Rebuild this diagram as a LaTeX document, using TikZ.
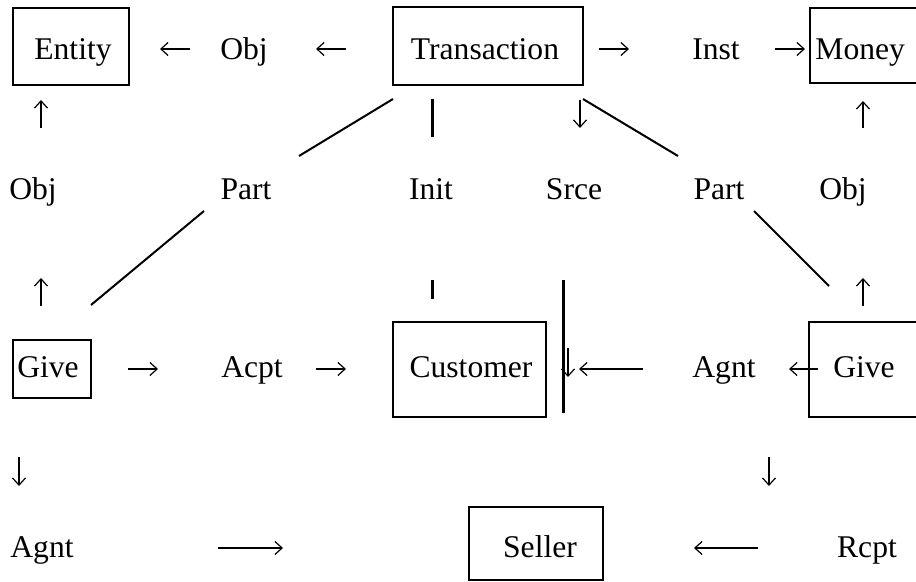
\documentclass[tikz,border=0pt]{standalone}
\usepackage{fontspec}
\setmainfont{Liberation Serif}
\usetikzlibrary{arrows.meta}
\begin{document}
\begin{tikzpicture}[x=0.5pt,y=-0.5pt,
  lbl/.style={anchor=base,inner sep=0pt,font=\fontsize{15.8}{18}\selectfont},
  boxline/.style={line width=1pt},
  rel/.style={line width=1pt},
  bar/.style={line width=1.5pt},
  arr/.style={line width=0.6pt,-{Straight Barb[length=3.6pt,width=6.5pt,line width=0.6pt]}}]
\useasboundingbox (0,0) rectangle (916,582);
\clip (0,0) rectangle (916,582);
% boxes
\draw[boxline] (13,8) rectangle (129,85);
\draw[boxline] (393,7) rectangle (583,85);
\draw[boxline] (810,8) rectangle (930,83);
\draw[boxline] (13,340) rectangle (91,398);
\draw[boxline] (393,322) rectangle (546,417);
\draw[boxline] (809,322) rectangle (930,417);
\draw[boxline] (469,507) rectangle (603,580);
% labels row 1
\node[lbl] (entity) at (73,60) {Entity};
\node[lbl] (obj1) at (244,60) {Obj};
\node[lbl] (trans) at (485,60) {Transaction};
\node[lbl] (inst) at (716,60) {Inst};
\node[lbl,anchor=base west] (money) at (815,60) {Money};
% row 3
\node[lbl] (obj2) at (33,200) {Obj};
\node[lbl] (part1) at (246,200) {Part};
\node[lbl] (init) at (431,200) {Init};
\node[lbl] (srce) at (574,200) {Srce};
\node[lbl] (part2) at (719,200) {Part};
\node[lbl] (obj3) at (843,200) {Obj};
% row 5
\node[lbl] (give1) at (48,378) {Give};
\node[lbl] (acpt) at (252,378) {Acpt};
\node[lbl] (cust) at (471,378) {Customer};
\node[lbl] (agnt1) at (724,378) {Agnt};
\node[lbl] (give2) at (864,378) {Give};
% row 7
\node[lbl] (agnt2) at (42,558) {Agnt};
\node[lbl] (seller) at (540,558) {Seller};
\node[lbl] (rcpt) at (867,558) {Rcpt};
% plain lines
\draw[rel] (393,99) -- (299,156);
\draw[rel] (204,211) -- (91,305);
\draw[rel] (583,99) -- (678,156);
\draw[rel] (754,211) -- (829,286);
\draw[bar] (432,99) -- (432,137);
\draw[bar] (432,280) -- (432,299);
\draw[bar] (563,280) -- (563,413);
% arrows row 1
\draw[arr] (190,49) -- (160,49);
\draw[arr] (346,49) -- (316,49);
\draw[arr] (599,49) -- (629,49);
\draw[arr] (775,49) -- (805,49);
% row 2
\draw[arr] (41,128) -- (41,100);
\draw[arr] (580,100) -- (580,128);
\draw[arr] (863,128) -- (863,101);
% row 4
\draw[arr] (41,306) -- (41,278);
\draw[arr] (863,306) -- (863,278);
% row 5
\draw[arr] (128,369) -- (158,369);
\draw[arr] (316,369) -- (346,369);
\draw[arr] (568,348) -- (568,377);
\draw[arr] (643,369) -- (579,369);
\draw[arr] (818,369) -- (789,369);
% row 6
\draw[arr] (19,457) -- (19,486);
\draw[arr] (769,457) -- (769,486);
% row 7
\draw[arr] (218,548) -- (283,548);
\draw[arr] (758,548) -- (694,548);
\end{tikzpicture}
\end{document}
